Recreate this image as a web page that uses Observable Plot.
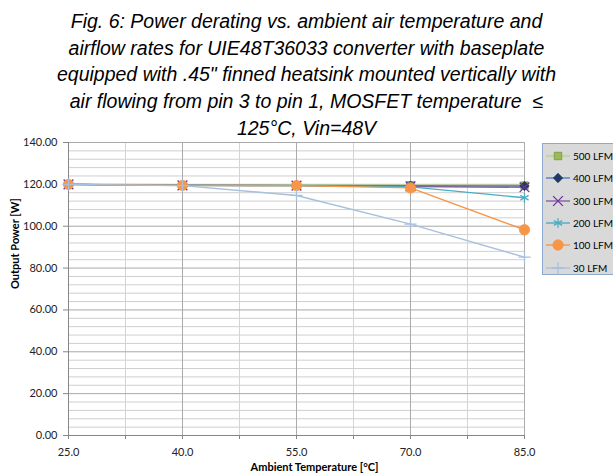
<!DOCTYPE html>
<html>
<head>
<meta charset="utf-8">
<script src="https://cdn.jsdelivr.net/npm/d3@7"></script>
<script src="https://cdn.jsdelivr.net/npm/@observablehq/plot@0.6"></script>
<style>
  html, body { margin: 0; padding: 0; background: #fff; }
  #wrap { position: relative; width: 613px; height: 476px; overflow: hidden; background: #fff; }
  #title { position: absolute; left: 0; top: 8px; width: 613px; text-align: center;
    font-family: "Liberation Sans", Arial, sans-serif; font-style: italic; font-size: 19.5px;
    line-height: 26.7px; color: #000; z-index: 2; }
  #chart { position: absolute; left: 0; top: 0; }
  #legend { position: absolute; left: 542px; top: 143px; width: 71px; height: 132px;
    background: #d9d9d9; border: 1px solid #8ea9cf; border-right: none; box-sizing: border-box; z-index: 3;
    font-family: Lato, "Open Sans", sans-serif; font-size: 10px; color: #000; padding-top: 1px; overflow: hidden; }
  .item { display: flex; align-items: center; height: 22.3px; white-space: nowrap; }
  .item svg { margin-left: 3px; margin-right: 3px; flex: none; }
</style>
</head>
<body>
<div id="wrap">
  <div id="title">Fig. 6: Power derating vs. ambient air temperature and<br>airflow rates for UIE48T36033 converter with baseplate<br>equipped with .45" finned heatsink mounted vertically with<br>air flowing from pin 3 to pin 1, MOSFET temperature &nbsp;≤<br>125°C, Vin=48V</div>
  <div id="chart"></div>
  <div id="legend"></div>
</div>
<script>
// ---- data ----
const temps = [25, 40, 55, 70, 85];
const seriesNames = ["500 LFM", "400 LFM", "300 LFM", "200 LFM", "100 LFM", "30 LFM"];
const lfm500 = [120, 119.6, 119.6, 119.5, 119.4];
const lfm400 = [120, 119.6, 119.5, 119.4, 119.2];
const lfm300 = [120, 119.5, 119.4, 119.0, 118.6];
const lfm200 = [120, 119.5, 119.4, 118.8, 113.6];
const lfm100 = [120, 119.5, 119.4, 118.3, 98.3];
const lfm30  = [120, 119.4, 114.7, 101.0, 85.2];
const xMajorTicks = [25, 40, 55, 70, 85];
const xMinorTicks = [32.5, 47.5, 62.5, 77.5];
const yMajorTicks = [0, 20, 40, 60, 80, 100, 120, 140];
const yMinorTicks = [4,8,12,16,24,28,32,36,44,48,52,56,64,68,72,76,84,88,92,96,104,108,112,116,124,128,132,136];
const xTitle = "Ambient Temperature [°C]";
const yTitle = "Output Power [W]";

// ---- styles ----
const styles = [
  {line: "#c3d69b", stroke: "#77933c", fill: "#9bbb59", symbol: "square", r: 4.2},
  {line: "#4f7fc0", stroke: "#1f3864", fill: "#1f3864", symbol: "diamond2", r: 4.2},
  {line: "#8064a2", stroke: "#7030a0", fill: "none", symbol: "times", r: 4.5},
  {line: "#4bacc6", stroke: "#4bacc6", fill: "none", symbol: "asterisk", r: 4.5},
  {line: "#f79646", stroke: "#f79646", fill: "#f79646", symbol: "circle", r: 5.2},
  {line: "#a7c0de", stroke: "#a7c0de", fill: "none", symbol: "plus", r: 4}
];
const allValues = [lfm500, lfm400, lfm300, lfm200, lfm100, lfm30];
const rows = [];
seriesNames.forEach((s, i) => temps.forEach((t, j) => rows.push({series: s, idx: i, temp: t, power: allValues[i][j]})));

const seriesMarks = [];
seriesNames.forEach((s, i) => {
  const d = rows.filter(r => r.idx === i);
  const st = styles[i];
  seriesMarks.push(Plot.line(d, {x: "temp", y: "power", stroke: st.line, strokeWidth: i === 0 ? 2.2 : 1.4}));
});
seriesNames.forEach((s, i) => {
  const d = rows.filter(r => r.idx === i);
  const st = styles[i];
  seriesMarks.push(Plot.dot(d, {x: "temp", y: "power", symbol: () => st.symbol, r: st.r,
    stroke: st.stroke, fill: st.fill, strokeWidth: st.fill === "none" ? 1.3 : 0.8}));
});

const chart = Plot.plot({
  width: 613, height: 476,
  marginTop: 142, marginBottom: 41, marginLeft: 68, marginRight: 89,
  x: {domain: [25, 85]},
  y: {domain: [0, 140]},
  symbol: {type: "identity"},
  style: {fontFamily: "Lato, 'Open Sans', sans-serif", fontSize: "11px", color: "#222", background: "transparent"},
  marks: [
    Plot.ruleY(yMinorTicks, {stroke: "#cfcfcf", strokeWidth: 1}),
    Plot.ruleX(xMinorTicks, {stroke: "#d4d4d4", strokeWidth: 1}),
    Plot.ruleY(yMajorTicks, {stroke: "#a8a8a8", strokeWidth: 1}),
    Plot.ruleX(xMajorTicks, {stroke: "#ababab", strokeWidth: 1}),
    Plot.axisX({ticks: xMajorTicks, tickSize: 0, tickPadding: 13, tickFormat: d => d.toFixed(1), label: null}),
    Plot.axisX({ticks: xMajorTicks.concat(xMinorTicks), tickSize: 4, stroke: "#868686", tickFormat: () => "", label: null}),
    Plot.axisY({ticks: yMajorTicks, tickSize: 5, tickPadding: 6, stroke: "#868686", tickFormat: d => d.toFixed(2), label: null}),
    Plot.ruleX([25], {stroke: "#868686"}),
    Plot.ruleY([0], {stroke: "#868686"}),
    ...seriesMarks,
    Plot.text([yTitle], {frameAnchor: "left", dx: -53, rotate: -90, fontWeight: "bold", fontSize: 11, fill: "#000"}),
    Plot.text([xTitle], {frameAnchor: "bottom", dx: 18, dy: 35, fontWeight: "bold", fontSize: 11, fill: "#000"})
  ]
});
document.getElementById("chart").appendChild(chart);

// ---- legend ----
const legend = document.getElementById("legend");
const symMap = {square: d3.symbolSquare, diamond2: d3.symbolDiamond2, times: d3.symbolTimes,
  asterisk: d3.symbolAsterisk, circle: d3.symbolCircle, plus: d3.symbolPlus};
seriesNames.forEach((s, i) => {
  const st = styles[i];
  const item = document.createElement("div");
  item.className = "item";
  const svg = d3.create("svg").attr("width", 24).attr("height", 12);
  svg.append("line").attr("x1", 0).attr("x2", 24).attr("y1", 6).attr("y2", 6)
    .attr("stroke", st.line).attr("stroke-width", i === 0 ? 2.2 : 1.4);
  svg.append("path").attr("transform", "translate(12,6)")
    .attr("d", d3.symbol(symMap[st.symbol], Math.PI * st.r * st.r)())
    .attr("fill", st.fill).attr("stroke", st.stroke).attr("stroke-width", st.fill === "none" ? 1.3 : 0.8);
  item.appendChild(svg.node());
  const span = document.createElement("span");
  span.textContent = s;
  item.appendChild(span);
  legend.appendChild(item);
});
</script>
</body>
</html>
